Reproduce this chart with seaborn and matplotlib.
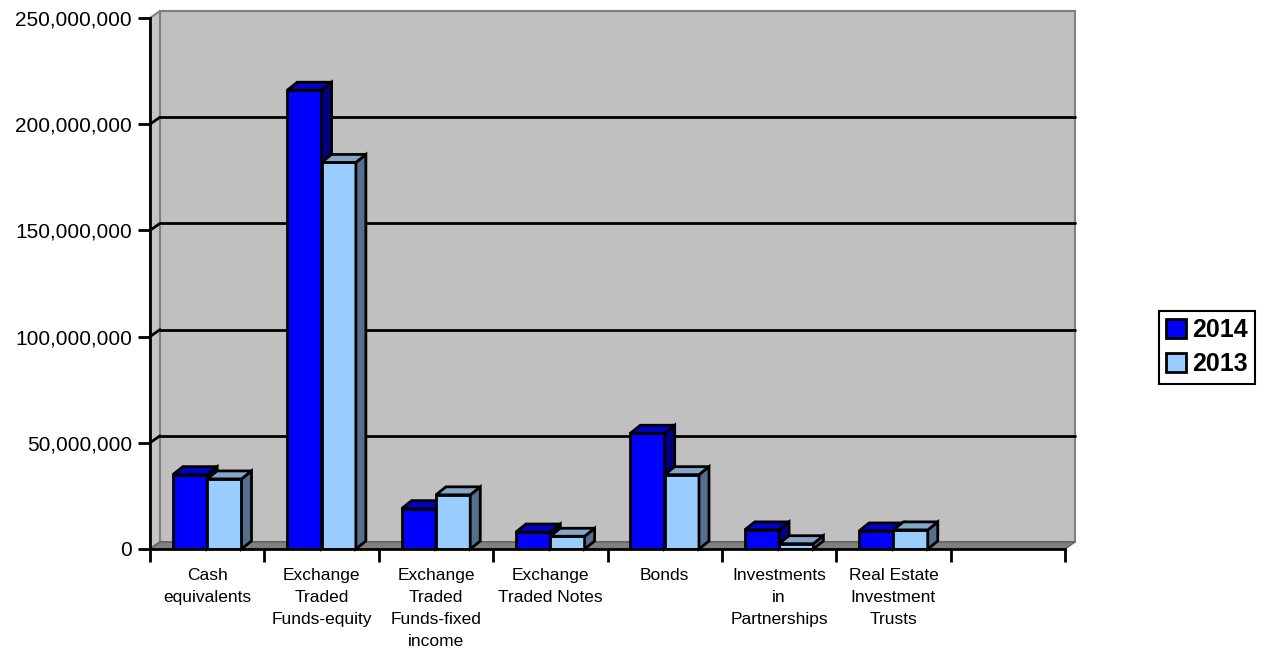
import numpy as np
import pandas as pd
import seaborn as sns
import matplotlib.pyplot as plt
from matplotlib.patches import Polygon, Patch
from matplotlib.ticker import FuncFormatter

categories = ['Cash\nequivalents', 'Exchange\nTraded\nFunds-equity',
              'Exchange\nTraded\nFunds-fixed\nincome', 'Exchange\nTraded Notes',
              'Bonds', 'Investments\nin\nPartnerships', 'Real Estate\nInvestment\nTrusts']
years = ['2014', '2013']
values_2014 = [35000000, 216000000, 19000000, 8000000, 54500000, 9000000, 8500000]
values_2013 = [33000000, 182000000, 25500000, 6000000, 35000000, 2500000, 9000000]

df = pd.DataFrame({
    'category': categories * 2,
    'year': ['2014'] * len(categories) + ['2013'] * len(categories),
    'value': values_2014 + values_2013,
})

front = {'2014': '#0000ff', '2013': '#99ccff'}
top = {'2014': '#0000c8', '2013': '#84a6c8'}
side = {'2014': '#000080', '2013': '#566f8c'}

sns.set_style('white')
plt.rcParams['font.family'] = ['Liberation Sans', 'DejaVu Sans']
plt.rcParams['text.color'] = 'black'
plt.rcParams['xtick.color'] = 'black'
plt.rcParams['ytick.color'] = 'black'

W, H = 1272, 655
fig = plt.figure(figsize=(W / 100, H / 100), dpi=100)
ax_l, ax_r, ax_b, ax_t = 150, 1065, 549, 18
ax = fig.add_axes([ax_l / W, (H - ax_b) / H, (ax_r - ax_l) / W, (ax_b - ax_t) / H])
ax.set_facecolor('none')

ymax = 250000000
nslots = 8
ax.set_xlim(-0.5, nslots - 0.5)
ax.set_ylim(0, ymax)

# pixel -> data conversion for the 3d depth
px_x = nslots / (ax_r - ax_l)
px_y = ymax / (ax_b - ax_t)
wall_dx, wall_dy = 10 * px_x, 7 * px_y
bar_dx, bar_dy = 10 * px_x, 8 * px_y

x0, x1 = -0.5, nslots - 0.5
# back wall
ax.add_patch(Polygon([(x0 + wall_dx, wall_dy), (x1 + wall_dx, wall_dy),
                      (x1 + wall_dx, ymax + wall_dy), (x0 + wall_dx, ymax + wall_dy)],
                     closed=True, facecolor='#c0c0c0', edgecolor='#808080', lw=1.5,
                     clip_on=False, zorder=0))
# left wall
ax.add_patch(Polygon([(x0, 0), (x0 + wall_dx, wall_dy), (x0 + wall_dx, ymax + wall_dy), (x0, ymax)],
                     closed=True, facecolor='#c4c4c4', edgecolor='#808080', lw=1.5,
                     clip_on=False, zorder=0.5))
# floor
ax.add_patch(Polygon([(x0, 0), (x1, 0), (x1 + wall_dx, wall_dy), (x0 + wall_dx, wall_dy)],
                     closed=True, facecolor='#808080', edgecolor='#606060', lw=1,
                     clip_on=False, zorder=0.5))
# gridlines on the back wall
for g in range(50000000, ymax, 50000000):
    ax.plot([x0 + wall_dx, x1 + wall_dx], [g + wall_dy, g + wall_dy], color='black', lw=2,
            zorder=1, clip_on=False)
    ax.plot([x0, x0 + wall_dx], [g, g + wall_dy], color='black', lw=2, zorder=1, clip_on=False)

sns.barplot(data=df, x='category', y='value', hue='year', hue_order=years,
            palette=front, width=0.6, ax=ax, edgecolor='black', linewidth=2,
            saturation=1, legend=False)
ax.set_xlim(-0.5, nslots - 0.5)
ax.set_ylim(0, ymax)

for i, year in enumerate(years):
    cont = ax.containers[i]
    for p in cont.patches:
        z = 3 + i
        p.set_zorder(z)
        bx, bw, bh = p.get_x(), p.get_width(), p.get_height()
        ax.add_patch(Polygon([(bx + bw, 0), (bx + bw + bar_dx, bar_dy),
                              (bx + bw + bar_dx, bh + bar_dy), (bx + bw, bh)],
                             closed=True, facecolor=side[year], edgecolor='black', lw=2,
                             zorder=z, clip_on=False))
        ax.add_patch(Polygon([(bx, bh), (bx + bw, bh), (bx + bw + bar_dx, bh + bar_dy),
                              (bx + bar_dx, bh + bar_dy)],
                             closed=True, facecolor=top[year], edgecolor='black', lw=2,
                             zorder=z, clip_on=False))

for s in ['top', 'right']:
    ax.spines[s].set_visible(False)
for s in ['left', 'bottom']:
    ax.spines[s].set_color('black')
    ax.spines[s].set_linewidth(2)
    ax.spines[s].set_zorder(6)

ax.set_yticks(np.arange(0, ymax + 1, 50000000))
ax.yaxis.set_major_formatter(FuncFormatter(lambda v, _: '{:,.0f}'.format(v)))
ax.tick_params(axis='y', direction='out', length=9, width=2, color='black',
               labelsize=15, pad=4, left=True)
ax.set_xticks(range(len(categories)))
ax.set_xticklabels(categories, fontsize=12.5, linespacing=1.58, va='top')
ax.set_xticks(np.arange(-0.5, nslots, 1), minor=True)
ax.tick_params(axis='x', which='major', length=0, pad=14)
ax.tick_params(axis='x', which='minor', direction='out', length=9, width=2,
               color='black', bottom=True)
ax.set_xlabel('')
ax.set_ylabel('')

handles = [Patch(facecolor=front[y], edgecolor='black', lw=2) for y in years]
leg = fig.legend(handles, years, loc='center', bbox_to_anchor=(1207 / W, 1 - 347 / H),
                 frameon=True, fancybox=False, edgecolor='black', framealpha=1,
                 prop={'weight': 'bold', 'size': 18}, handlelength=0.8, handleheight=0.8,
                 handletextpad=0.25, borderpad=0.3, labelspacing=0.4)
leg.get_frame().set_linewidth(1.5)

fig.savefig('out.png', dpi=100, facecolor='white')
